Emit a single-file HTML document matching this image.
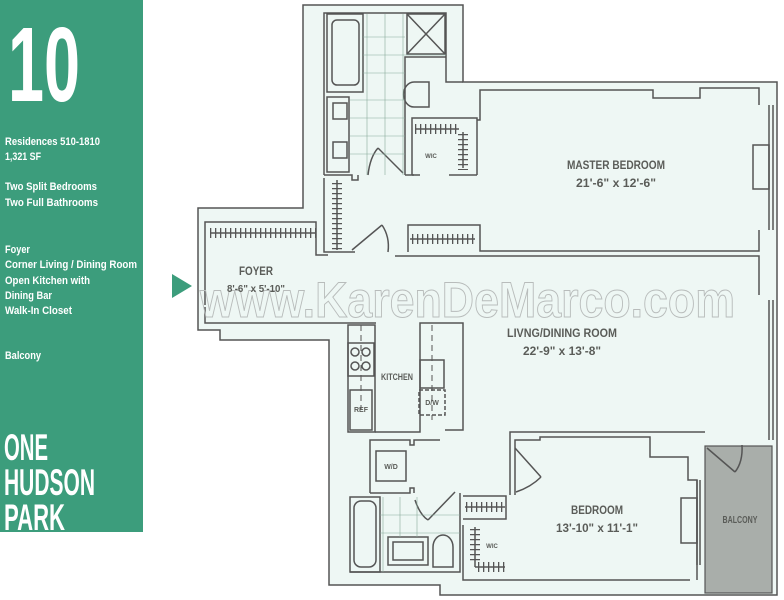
<!DOCTYPE html>
<html><head><meta charset="utf-8"><style>
html,body{margin:0;padding:0;background:#fff}
svg{display:block}
text{font-family:"Liberation Sans Narrow","Liberation Sans",sans-serif;font-weight:bold}
</style></head><body>
<svg width="784" height="600" viewBox="0 0 784 600" xmlns="http://www.w3.org/2000/svg">
<rect width="784" height="600" fill="#fff"/>
<rect x="0" y="0" width="143" height="532" fill="#3c9d7c"/>
<g fill="#fff">
<text x="8" y="101" font-size="106" textLength="72" lengthAdjust="spacingAndGlyphs" font-weight="normal">10</text>
<g font-size="11">
<text x="5" y="145" textLength="95" lengthAdjust="spacingAndGlyphs">Residences 510-1810</text>
<text x="5" y="160" textLength="36" lengthAdjust="spacingAndGlyphs">1,321 SF</text>
<text x="5" y="190" textLength="92" lengthAdjust="spacingAndGlyphs">Two Split Bedrooms</text>
<text x="5" y="206" textLength="93" lengthAdjust="spacingAndGlyphs">Two Full Bathrooms</text>
<text x="5" y="253" textLength="25" lengthAdjust="spacingAndGlyphs">Foyer</text>
<text x="5" y="268" textLength="132" lengthAdjust="spacingAndGlyphs">Corner Living / Dining Room</text>
<text x="5" y="284" textLength="85" lengthAdjust="spacingAndGlyphs">Open Kitchen with</text>
<text x="5" y="299" textLength="47" lengthAdjust="spacingAndGlyphs">Dining Bar</text>
<text x="5" y="314" textLength="67" lengthAdjust="spacingAndGlyphs">Walk-In Closet</text>
<text x="5" y="359" textLength="36" lengthAdjust="spacingAndGlyphs">Balcony</text>
</g>
<g font-size="37">
<text x="4" y="460" textLength="44" lengthAdjust="spacingAndGlyphs">ONE</text>
<text x="4" y="495" textLength="91" lengthAdjust="spacingAndGlyphs">HUDSON</text>
<text x="4" y="530" textLength="61" lengthAdjust="spacingAndGlyphs">PARK</text>
</g>
</g>
<polygon points="172,274 192,286 172,298" fill="#3c9d7c"/>
<polygon points="303,5 463,5 463,82 777,82 777,595 440,595 440,585 329,585 329,340 220,340 220,330 198,330 198,208 303,208" fill="#eef7f4" stroke="#555" stroke-width="1.5"/>
<rect x="705" y="446" width="67" height="147" fill="#a9aeaa" stroke="#555" stroke-width="1.2"/>
<g fill="none" stroke="#555" stroke-width="1.5">
<polyline points="205,305 205,222 316,222 316,255 328,255"/>
<polyline points="205,307 205,323 376,323"/>
<polyline points="324,175 324,13 446,13 446,82 463,82"/>
<polyline points="324,175 352,175 352,180 358,180 358,175"/>
<polyline points="405,175 405,57 446,57"/>
<polyline points="405,175 414,175"/>
<rect x="327" y="14" width="36" height="78"/>
<rect x="332" y="20" width="27" height="65" rx="5"/>
<rect x="407" y="14" width="38" height="40"/>
<line x1="407" y1="14" x2="445" y2="54"/><line x1="445" y1="14" x2="407" y2="54"/>
<rect x="327" y="97" width="22" height="75"/>
<rect x="333" y="103" width="14" height="16"/><rect x="333" y="142" width="14" height="16"/>
<path d="M414,82 h15 v25 h-15 a10,12 0 0 1 0,-25z"/>
<line x1="378" y1="148" x2="403" y2="173"/>
<path d="M368,175 q2,-18 10,-27"/>
<polyline points="412,175 412,118 477,118 477,175"/>
<polyline points="412,175 420,175"/>
<polyline points="449,175 477,175"/>
<line x1="415" y1="129" x2="459" y2="129"/><line x1="463" y1="132" x2="463" y2="168"/>
<polyline points="324,178 324,252 355,252"/>
<line x1="337" y1="180" x2="337" y2="250"/>
<line x1="352" y1="250" x2="382" y2="225"/>
<path d="M382,225 q8,12 6,27"/>
<polyline points="477,120 480,120 480,90 653,90 653,98 700,98 700,88 759,88 759,105"/>
<polyline points="759,230 759,251 480,251 480,225 408,225 408,252"/>
<polyline points="395,256 759,256 759,295"/>
<line x1="410" y1="239" x2="475" y2="239"/>
<line x1="210" y1="233" x2="316" y2="233"/>
<line x1="465" y1="507" x2="505" y2="507"/>
<line x1="769" y1="105" x2="769" y2="230"/><line x1="773" y1="105" x2="773" y2="230"/>
<rect x="753" y="145" width="16" height="44"/>
<line x1="769" y1="300" x2="769" y2="440"/><line x1="773" y1="300" x2="773" y2="440"/>
<rect x="348" y="325" width="27" height="107"/>
<rect x="348" y="343" width="26" height="33"/>
<circle cx="355" cy="352" r="4"/><circle cx="366" cy="352" r="4"/><circle cx="355" cy="366" r="4"/><circle cx="366" cy="366" r="4"/>
<rect x="350" y="390" width="22" height="40"/>
<polyline points="375,432 420,432 420,323 463,323 463,430 445,430"/>
<rect x="420" y="360" width="24" height="28"/>
<rect x="419" y="390" width="26" height="25" stroke-dasharray="4,2"/>
<line x1="432" y1="325" x2="432" y2="420" stroke-dasharray="6,4" stroke-width="1"/>
<line x1="361" y1="325" x2="361" y2="410" stroke-dasharray="6,4" stroke-width="1"/>
<polyline points="370,493 370,440 410,440 410,445 414,445 414,440 440,440"/>
<rect x="376" y="451" width="30" height="30"/>
<polyline points="370,493 410,493 410,488 414,488 414,493"/>
<rect x="350" y="497" width="30" height="75"/>
<rect x="354" y="501" width="22" height="66" rx="7"/>
<rect x="388" y="537" width="40" height="28"/>
<rect x="393" y="542" width="30" height="18"/>
<path d="M433,567 v-20 a10,12 0 0 1 20,0 v20z"/>
<polyline points="350,572 460,572 460,493"/>
<line x1="428" y1="520" x2="455" y2="492"/>
<path d="M415,500 q5,15 13,20"/>
<polyline points="463,496 506,496 506,519 463,519"/>
<polyline points="463,525 463,580 690,580"/>
<line x1="475" y1="527" x2="475" y2="567"/><line x1="475" y1="567" x2="505" y2="567"/>
<polyline points="510,495 510,432 705,432"/>
<polyline points="515,495 515,440 540,440 540,437 650,437 650,457 688,457 688,480 697,480 697,580"/>
<line x1="515" y1="448" x2="541" y2="477"/>
<path d="M541,477 q-10,10 -25,15"/>
<rect x="681" y="498" width="16" height="45"/>
<line x1="697" y1="480" x2="697" y2="565"/><line x1="700" y1="480" x2="700" y2="565"/>
<line x1="707" y1="448" x2="735" y2="472"/>
<path d="M735,472 q8,-10 7,-27"/>
</g>
<g stroke="#555" stroke-width="10" stroke-dasharray="1.3,3.7" fill="none">
<line x1="210" y1="233" x2="316" y2="233"/>
<line x1="337" y1="183" x2="337" y2="250"/>
<line x1="415" y1="129" x2="459" y2="129"/>
<line x1="463" y1="134" x2="463" y2="170"/>
<line x1="412" y1="239" x2="476" y2="239"/>
<line x1="466" y1="507" x2="505" y2="507"/>
<line x1="475" y1="529" x2="475" y2="564"/>
<line x1="478" y1="567" x2="505" y2="567"/>
</g>
<g stroke="#8a9" stroke-width="0.6">
<line x1="367" y1="14" x2="367" y2="175"/><line x1="385" y1="14" x2="385" y2="175"/><line x1="403" y1="14" x2="403" y2="175"/>
<line x1="350" y1="100" x2="405" y2="100"/><line x1="350" y1="118" x2="405" y2="118"/><line x1="350" y1="136" x2="405" y2="136"/><line x1="350" y1="154" x2="405" y2="154"/>
<line x1="363" y1="37" x2="405" y2="37"/><line x1="363" y1="55" x2="446" y2="55"/><line x1="363" y1="73" x2="405" y2="73"/>
<line x1="383" y1="497" x2="383" y2="572"/><line x1="400" y1="497" x2="400" y2="537"/><line x1="417" y1="497" x2="417" y2="537"/>
<line x1="380" y1="515" x2="460" y2="515"/><line x1="380" y1="533" x2="460" y2="533"/>
</g>
<text x="200" y="317" font-size="50" font-weight="normal" style="font-family:'Liberation Sans',sans-serif" fill="none" stroke="#b8bcbb" stroke-width="1" textLength="535" lengthAdjust="spacingAndGlyphs">www.KarenDeMarco.com</text>
<g fill="#5a5c58" text-anchor="middle" font-size="12">
<text x="256" y="275" textLength="34" lengthAdjust="spacingAndGlyphs">FOYER</text>
<text x="256" y="292" font-size="10" textLength="58" lengthAdjust="spacingAndGlyphs">8'-6" x 5'-10"</text>
<text x="616" y="169" textLength="98" lengthAdjust="spacingAndGlyphs">MASTER BEDROOM</text>
<text x="616" y="187" textLength="80" lengthAdjust="spacingAndGlyphs">21'-6" x 12'-6"</text>
<text x="562" y="337" textLength="110" lengthAdjust="spacingAndGlyphs">LIVNG/DINING ROOM</text>
<text x="562" y="355" textLength="78" lengthAdjust="spacingAndGlyphs">22'-9" x 13'-8"</text>
<text x="397" y="380" font-size="9" textLength="32" lengthAdjust="spacingAndGlyphs">KITCHEN</text>
<text x="361" y="412" font-size="7">REF</text>
<text x="432" y="405" font-size="7">D/W</text>
<text x="391" y="469" font-size="7">W/D</text>
<text x="431" y="158" font-size="6">WIC</text>
<text x="492" y="548" font-size="6">WIC</text>
<text x="597" y="514" textLength="52" lengthAdjust="spacingAndGlyphs">BEDROOM</text>
<text x="597" y="532" textLength="82" lengthAdjust="spacingAndGlyphs">13'-10" x 11'-1"</text>
<text x="740" y="523" font-size="10" textLength="35" lengthAdjust="spacingAndGlyphs">BALCONY</text>
</g>
</svg>
</body></html>
